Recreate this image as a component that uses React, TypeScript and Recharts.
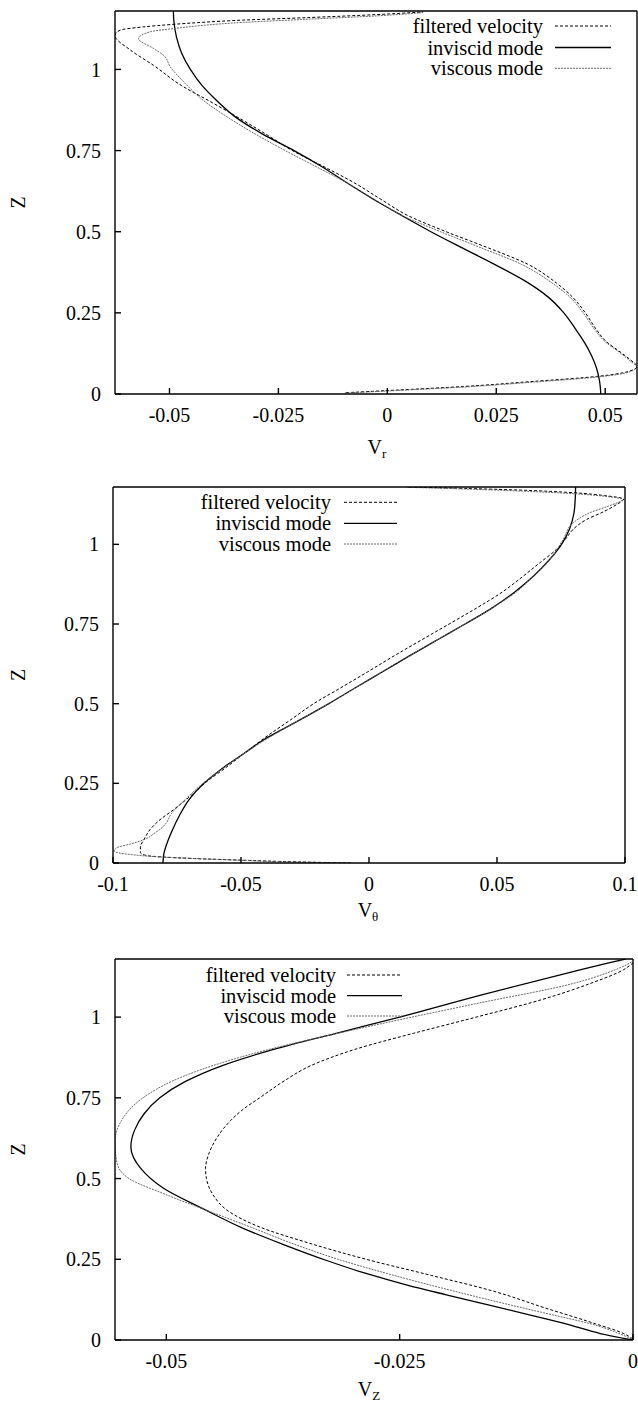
import { Legend, Line, LineChart, XAxis, YAxis } from "recharts";

const FONT = '"Liberation Serif", "Times New Roman", serif';

type Pt = [number, number]; // [velocity, z]

const zTicks = [0, 0.25, 0.5, 0.75, 1];
const zMax = 1.18;
const seriesNames = ["filtered velocity", "inviscid mode", "viscous mode"];

// V_r
const vrTicks = [-0.05, -0.025, 0, 0.025, 0.05];
const vrFiltered: Pt[] = [
  [-0.0095, 0.004], [0.002, 0.012], [0.0174, 0.023], [0.0327, 0.038], [0.048, 0.054],
  [0.0555, 0.07], [0.0573, 0.085], [0.0558, 0.105], [0.0538, 0.126], [0.0502, 0.162],
  [0.0479, 0.2], [0.0455, 0.249], [0.0424, 0.3], [0.0388, 0.342], [0.0322, 0.4],
  [0.0232, 0.45], [0.0135, 0.5], [0.0047, 0.55], [-0.0015, 0.6], [-0.0075, 0.65],
  [-0.0145, 0.7], [-0.0218, 0.75], [-0.0278, 0.8], [-0.034, 0.85], [-0.0405, 0.9],
  [-0.0472, 0.95], [-0.0537, 1.013], [-0.059, 1.06], [-0.0625, 1.105], [-0.0613, 1.121],
  [-0.056, 1.131], [-0.049, 1.139], [-0.033, 1.152], [-0.0177, 1.16], [-0.0024, 1.169],
  [0.0082, 1.177],
];
const vrInviscid: Pt[] = [
  [0.049, 0], [0.0487, 0.04], [0.048, 0.08], [0.0468, 0.12], [0.0452, 0.16],
  [0.0432, 0.2], [0.0405, 0.25], [0.0368, 0.3], [0.0314, 0.35], [0.0245, 0.4],
  [0.0172, 0.45], [0.01, 0.5], [0.0033, 0.55], [-0.0032, 0.6], [-0.0092, 0.65],
  [-0.015, 0.7], [-0.0214, 0.75], [-0.0285, 0.8], [-0.0345, 0.85], [-0.0393, 0.906],
  [-0.0425, 0.95], [-0.0452, 1.0], [-0.0472, 1.05], [-0.0484, 1.1], [-0.049, 1.15],
  [-0.0491, 1.18],
];
const vrViscous: Pt[] = [
  [-0.0098, 0.003], [0.0012, 0.01], [0.017, 0.021], [0.033, 0.036], [0.048, 0.052],
  [0.0556, 0.068], [0.0572, 0.083], [0.0556, 0.103], [0.0535, 0.126], [0.0499, 0.162],
  [0.0475, 0.2], [0.045, 0.249], [0.0418, 0.3], [0.0378, 0.342], [0.0307, 0.4],
  [0.0216, 0.45], [0.0122, 0.5], [0.0034, 0.55], [-0.003, 0.6], [-0.0092, 0.65],
  [-0.0163, 0.7], [-0.0237, 0.752], [-0.0302, 0.8], [-0.0368, 0.854], [-0.0418, 0.9],
  [-0.0464, 0.957], [-0.0498, 1.008], [-0.0514, 1.044], [-0.0537, 1.065], [-0.0571, 1.095],
  [-0.0544, 1.116], [-0.049, 1.126], [-0.033, 1.145], [-0.0177, 1.155], [-0.0024, 1.165],
  [0.0082, 1.175],
];

// V_theta
const vtTicks = [-0.1, -0.05, 0, 0.05, 0.1];
const vtFiltered: Pt[] = [
  [-0.007, 0], [-0.02, 0.002], [-0.035, 0.005], [-0.05, 0.009], [-0.065, 0.013],
  [-0.079, 0.018], [-0.0872, 0.024], [-0.0893, 0.033], [-0.0893, 0.05], [-0.0878, 0.075],
  [-0.0855, 0.105], [-0.0816, 0.136], [-0.0764, 0.167], [-0.0699, 0.209], [-0.0633, 0.256],
  [-0.0558, 0.3], [-0.0478, 0.35], [-0.0395, 0.4], [-0.0305, 0.45], [-0.0216, 0.5],
  [-0.011, 0.55], [-0.0005, 0.6], [0.0098, 0.65], [0.0205, 0.7], [0.0313, 0.75],
  [0.042, 0.8], [0.052, 0.85], [0.0602, 0.9], [0.0667, 0.942], [0.0732, 0.984],
  [0.0771, 1.02], [0.0797, 1.047], [0.085, 1.078], [0.0915, 1.102], [0.0967, 1.125],
  [0.0995, 1.142], [0.092, 1.153], [0.08, 1.162], [0.06, 1.17], [0.04, 1.175],
  [0.015, 1.18],
];
const vtInviscid: Pt[] = [
  [-0.0805, 0], [-0.0801, 0.03], [-0.079, 0.06], [-0.077, 0.1], [-0.074, 0.15],
  [-0.0702, 0.2], [-0.0645, 0.25], [-0.0568, 0.3], [-0.0486, 0.345], [-0.0405, 0.39],
  [-0.0327, 0.424], [-0.0245, 0.46], [-0.0157, 0.5], [-0.0053, 0.55], [0.0053, 0.6],
  [0.0158, 0.65], [0.0266, 0.7], [0.0375, 0.75], [0.048, 0.8], [0.0568, 0.85],
  [0.0642, 0.9], [0.0703, 0.95], [0.0752, 1.0], [0.0784, 1.05], [0.0801, 1.1],
  [0.0806, 1.15], [0.0807, 1.18],
];
const vtViscous: Pt[] = [
  [-0.008, 0], [-0.02, 0.002], [-0.035, 0.004], [-0.0486, 0.008], [-0.065, 0.013],
  [-0.0816, 0.019], [-0.0935, 0.027], [-0.0995, 0.037], [-0.0985, 0.048], [-0.093, 0.06],
  [-0.088, 0.073], [-0.0835, 0.095], [-0.0803, 0.115], [-0.077, 0.157], [-0.0718, 0.199],
  [-0.0647, 0.251], [-0.0565, 0.3], [-0.0486, 0.345], [-0.0327, 0.424], [-0.0157, 0.5],
  [0.005, 0.6], [0.0265, 0.7], [0.048, 0.8], [0.0575, 0.85], [0.0641, 0.9],
  [0.0706, 0.952], [0.0758, 1.015], [0.0797, 1.067], [0.0862, 1.099], [0.0935, 1.12],
  [0.099, 1.141], [0.092, 1.151], [0.08, 1.159], [0.06, 1.167], [0.04, 1.173],
  [0.015, 1.179],
];

// V_Z
const vzTicks = [-0.05, -0.025, 0];
const vzFiltered: Pt[] = [
  [0, 0.003], [-0.001, 0.02], [-0.004, 0.05], [-0.0095, 0.1], [-0.0148, 0.15],
  [-0.0216, 0.2], [-0.0286, 0.25], [-0.0347, 0.3], [-0.04, 0.35], [-0.0434, 0.4],
  [-0.045, 0.45], [-0.0457, 0.5], [-0.0458, 0.531], [-0.0454, 0.58], [-0.0445, 0.63],
  [-0.0431, 0.68], [-0.0417, 0.716], [-0.04, 0.75], [-0.0375, 0.8], [-0.0345, 0.85],
  [-0.0298, 0.9], [-0.0235, 0.95], [-0.0168, 1.0], [-0.0098, 1.054], [-0.0045, 1.105],
  [-0.001, 1.147], [0, 1.168],
];
const vzInviscid: Pt[] = [
  [0, 0], [-0.0035, 0.02], [-0.0067, 0.046], [-0.011, 0.077], [-0.0154, 0.108],
  [-0.02, 0.14], [-0.0242, 0.17], [-0.0286, 0.206], [-0.0329, 0.247], [-0.0373, 0.294],
  [-0.0417, 0.345], [-0.0461, 0.407], [-0.0503, 0.47], [-0.0527, 0.53], [-0.0538, 0.598],
  [-0.0534, 0.65], [-0.0524, 0.7], [-0.0507, 0.75], [-0.048, 0.8], [-0.044, 0.85],
  [-0.0385, 0.9], [-0.0318, 0.95], [-0.025, 1.0], [-0.0162, 1.069], [-0.006, 1.144],
  [-0.0026, 1.168], [-0.0008, 1.18],
];
const vzViscous: Pt[] = [
  [-0.0002, 0.004], [-0.0015, 0.02], [-0.0045, 0.05], [-0.0082, 0.075], [-0.0119, 0.1],
  [-0.019, 0.15], [-0.0256, 0.2], [-0.0316, 0.25], [-0.0366, 0.3], [-0.041, 0.35],
  [-0.0437, 0.38], [-0.05, 0.45], [-0.054, 0.5], [-0.0553, 0.55], [-0.0555, 0.613],
  [-0.0548, 0.68], [-0.0525, 0.75], [-0.0495, 0.8], [-0.045, 0.85], [-0.039, 0.9],
  [-0.0316, 0.95], [-0.0237, 1.0], [-0.0166, 1.043], [-0.0063, 1.105], [-0.0025, 1.14],
  [-0.0007, 1.162], [-0.0001, 1.172],
];

const lineStyles: Record<string, { stroke: string; strokeWidth: number; strokeDasharray?: string }> = {
  "filtered velocity": { stroke: "#000", strokeWidth: 1, strokeDasharray: "3 2" },
  "inviscid mode": { stroke: "#000", strokeWidth: 1.3 },
  "viscous mode": { stroke: "#6a6a6a", strokeWidth: 1, strokeDasharray: "2 1" },
};

const toRows = (pts: Pt[]) => pts.map(([v, z]) => ({ v, z }));
const fmt = (v: number) => String(v);
const axisStroke = { stroke: "#000", strokeWidth: 1.4 };
const tickStyle = { fill: "#000", fontSize: 20, fontFamily: FONT };

function XTitle({ px, py, sub }: { px: number; py: number; sub: string }) {
  return (
    <text x={px} y={py} textAnchor="middle" fontFamily={FONT} fontSize={20} fill="#000">
      V
      <tspan dy={4} fontSize={13}>
        {sub}
      </tspan>
    </text>
  );
}

function ZTitle({ px, py }: { px: number; py: number }) {
  return (
    <text
      x={px}
      y={py}
      transform={`rotate(-90 ${px} ${py})`}
      textAnchor="middle"
      dominantBaseline="central"
      fontFamily={FONT}
      fontSize={20}
      fill="#000"
    >
      Z
    </text>
  );
}

function LegendSvg({
  textRight,
  lineFrom,
  lineTo,
  rows,
}: {
  textRight: number;
  lineFrom: number;
  lineTo: number;
  rows: number[];
}) {
  return (
    <svg width={638} height={100} style={{ display: "block" }}>
      {seriesNames.map((name, i) => (
        <g key={name}>
          <text x={textRight} y={rows[i] + 7} textAnchor="end" fontFamily={FONT} fontSize={20.5} fill="#000">
            {name}
          </text>
          <line x1={lineFrom} x2={lineTo} y1={rows[i]} y2={rows[i]} {...lineStyles[name]} />
        </g>
      ))}
    </svg>
  );
}

type PanelProps = {
  top: number;
  height: number;
  margin: { top: number; right: number; bottom: number; left: number };
  xDomain: [number, number];
  xTicks: number[];
  filtered: Pt[];
  inviscid: Pt[];
  viscous: Pt[];
  legend: { textRight: number; lineFrom: number; lineTo: number; rows: number[] };
  title: { px: number; py: number; sub: string };
};

function VelocityPanel({ top, height, margin, xDomain, xTicks, filtered, inviscid, viscous, legend, title }: PanelProps) {
  const series = [
    { name: seriesNames[0], rows: toRows(filtered) },
    { name: seriesNames[1], rows: toRows(inviscid) },
    { name: seriesNames[2], rows: toRows(viscous) },
  ];
  const plotTop = margin.top + 1;
  const plotBottom = height - margin.bottom - 60;
  const zMid = (plotTop + plotBottom) / 2;

  return (
    <div style={{ position: "absolute", left: 0, top, width: 638, height }}>
      <LineChart width={638} height={height} margin={margin}>
        <XAxis
          xAxisId="bottom"
          type="number"
          dataKey="v"
          domain={xDomain}
          ticks={xTicks}
          allowDataOverflow
          interval={0}
          height={60}
          tickSize={-6}
          tickMargin={20}
          tickFormatter={fmt}
          axisLine={axisStroke}
          tickLine={axisStroke}
          tick={tickStyle}
          label={<XTitle {...title} />}
        />
        <XAxis
          xAxisId="top"
          orientation="top"
          type="number"
          dataKey="v"
          domain={xDomain}
          ticks={xTicks}
          allowDataOverflow
          interval={0}
          height={1}
          tickSize={-6}
          tick={false}
          axisLine={axisStroke}
          tickLine={axisStroke}
        />
        <YAxis
          yAxisId="left"
          type="number"
          domain={[0, zMax]}
          ticks={zTicks}
          allowDataOverflow
          interval={0}
          width={60}
          tickSize={-6}
          tickMargin={20}
          tickFormatter={fmt}
          axisLine={axisStroke}
          tickLine={axisStroke}
          tick={tickStyle}
          label={<ZTitle px={18} py={zMid} />}
        />
        <YAxis
          yAxisId="right"
          orientation="right"
          type="number"
          domain={[0, zMax]}
          ticks={zTicks}
          allowDataOverflow
          interval={0}
          width={1}
          tickSize={-6}
          tick={false}
          axisLine={axisStroke}
          tickLine={axisStroke}
        />
        {series.map((s) => (
          <Line
            key={s.name}
            name={s.name}
            xAxisId="bottom"
            yAxisId="left"
            data={s.rows}
            dataKey="z"
            type="monotoneY"
            dot={false}
            activeDot={false}
            isAnimationActive={false}
            {...lineStyles[s.name]}
          />
        ))}
        {/* binds the mirrored frame axes so they render */}
        <Line
          xAxisId="top"
          yAxisId="right"
          data={series[1].rows}
          dataKey="z"
          stroke="none"
          dot={false}
          activeDot={false}
          legendType="none"
          isAnimationActive={false}
        />
        <Legend
          layout="horizontal"
          verticalAlign="middle"
          align="center"
          wrapperStyle={{ left: 0, top: 0, width: 638, height: 100, pointerEvents: "none" }}
          content={() => <LegendSvg {...legend} />}
        />
      </LineChart>
    </div>
  );
}

export default function App() {
  return (
    <div style={{ position: "absolute", left: 0, top: 0, width: 638, height: 1405, background: "#fff" }}>
      <VelocityPanel
        top={0}
        height={470}
        margin={{ top: 10, right: 0, bottom: 16, left: 55 }}
        xDomain={[-0.0625, 0.0573]}
        xTicks={vrTicks}
        filtered={vrFiltered}
        inviscid={vrInviscid}
        viscous={vrViscous}
        legend={{ textRight: 543, lineFrom: 555, lineTo: 611, rows: [26, 47.5, 68.3] }}
        title={{ px: 377, py: 454, sub: "r" }}
      />
      <VelocityPanel
        top={470}
        height={465}
        margin={{ top: 16, right: 12, bottom: 12, left: 53 }}
        xDomain={[-0.1, 0.1]}
        xTicks={vtTicks}
        filtered={vtFiltered}
        inviscid={vtInviscid}
        viscous={vtViscous}
        legend={{ textRight: 331, lineFrom: 344, lineTo: 397, rows: [32.3, 53.3, 74] }}
        title={{ px: 368, py: 447, sub: "θ" }}
      />
      <VelocityPanel
        top={935}
        height={470}
        margin={{ top: 23, right: 4, bottom: 5, left: 55 }}
        xDomain={[-0.0555, 0]}
        xTicks={vzTicks}
        filtered={vzFiltered}
        inviscid={vzInviscid}
        viscous={vzViscous}
        legend={{ textRight: 336, lineFrom: 347, lineTo: 402, rows: [40, 60.7, 81] }}
        title={{ px: 369, py: 461, sub: "Z" }}
      />
    </div>
  );
}
